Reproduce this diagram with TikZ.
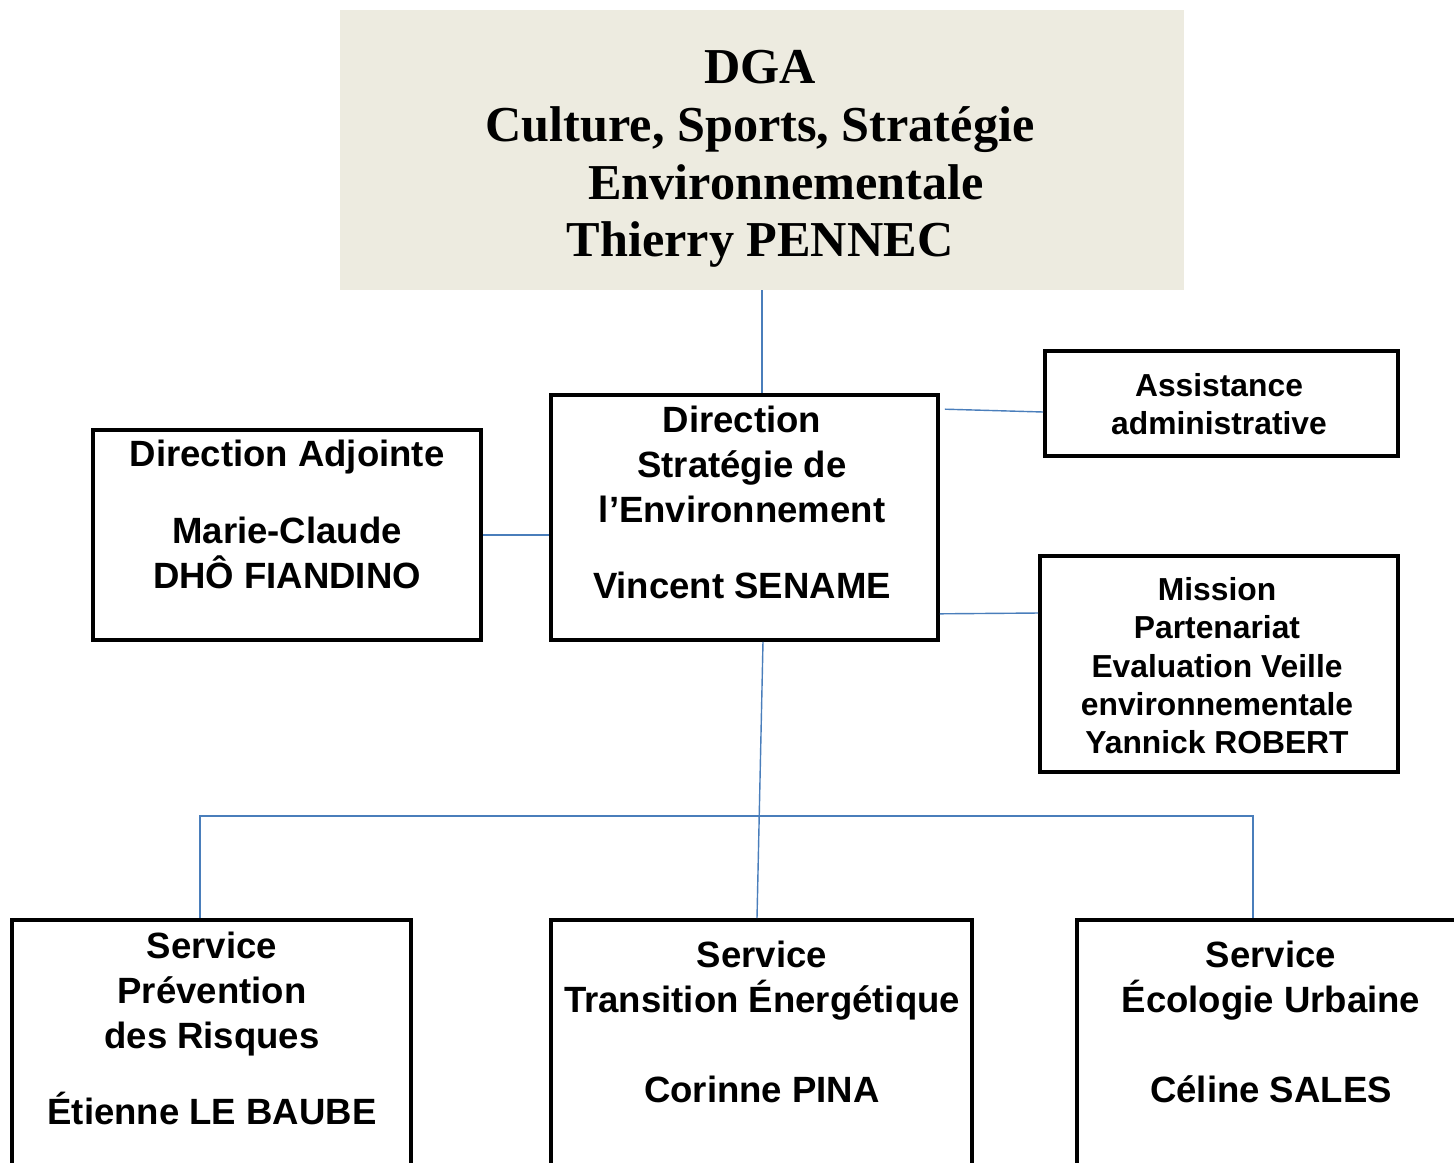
\documentclass[tikz,border=0pt]{standalone}
\usepackage{fontspec}
\setmainfont{Liberation Sans}
\newfontfamily\dgafont{Liberation Serif}
\usepackage{tikz}
\definecolor{dgabg}{RGB}{237,235,224}
\definecolor{linkblue}{RGB}{74,126,187}

\begin{document}
\begin{tikzpicture}[x=0.02cm,y=-0.02cm]
	\tikzstyle{box}=[draw,line width=2.1pt,shape=rectangle,inner sep=0pt]
	\tikzstyle{txt}=[anchor=north,align=center,inner sep=0pt,font=\fontsize{20.8}{25.5}\selectfont\bfseries]
	\tikzstyle{small}=[anchor=north,align=center,inner sep=0pt,font=\fontsize{18.1}{21.8}\selectfont\bfseries]
	\tikzstyle{link}=[draw=linkblue,line width=0.8pt]
	
	\useasboundingbox (0,0) rectangle (1454,1163);
	\clip (0,0) rectangle (1454,1163);
	
	\node[fill=dgabg,minimum width=16.88cm,minimum height=5.6cm](dga) at (762,150){};
	\node[align=center,inner sep=0pt,font=\dgafont\fontsize{28.6}{32.9}\selectfont\bfseries](dgaT) at (760,159){DGA\\Culture, Sports, Stratégie\\\hspace*{1.04cm}Environnementale\\Thierry PENNEC};
	
	\node[box,minimum width=7.76cm,minimum height=4.2cm](adj) at (287,535){};
	\node[box,minimum width=7.74cm,minimum height=4.9cm](dir) at (744.5,517.5){};
	\node[box,minimum width=7.06cm,minimum height=2.1cm](assist) at (1221.5,403.5){};
	\node[box,minimum width=7.16cm,minimum height=4.32cm](mission) at (1219,664){};
	\node[box,minimum width=7.98cm,minimum height=7.6cm](prev) at (211.5,1110){};
	\node[box,minimum width=8.42cm,minimum height=7.6cm](trans) at (761.5,1110){};
	\node[box,minimum width=8.06cm,minimum height=7.6cm](eco) at (1278.5,1110){};
	
	\node[txt](adjT) at (287,440){Direction Adjointe\\[0.64cm]Marie-Claude\\DHÔ FIANDINO};
	\node[txt](dirT) at (742,406){Direction\\Stratégie de\\l’Environnement\\[0.62cm]Vincent SENAME};
	\node[small](assistT) at (1219,373){Assistance\\administrative};
	\node[small](missionT) at (1217,577){Mission\\Partenariat\\Evaluation Veille\\environnementale\\Yannick ROBERT};
	\node[txt](prevT) at (212,932){Service\\Prévention\\des Risques\\[0.62cm]Étienne LE BAUBE};
	\node[txt](transT) at (762,941){Service\\Transition Énergétique\\[0.9cm]Corinne PINA};
	\node[txt](ecoT) at (1271,941){Service\\Écologie Urbaine\\[0.9cm]Céline SALES};
	
	\coordinate(bus) at (762,816);
	
	\draw[link] (dga.south) -- (dga.south |- dir.north);
	\draw[link] (adj.east) -- (adj.east -| dir.west);
	\draw[link] ([shift={(5,16)}]dir.north east) -- ([yshift=-0.17cm]assist.west);
	\draw[link] ([shift={(0,-28)}]dir.south east) -- ([yshift=1.02cm]mission.west);
	\draw[link] ([xshift=0.37cm]dir.south) -- ([xshift=-0.09cm]trans.north);
	\draw[link] ([xshift=-0.23cm]prev.north) |- (bus) -| ([xshift=-0.51cm]eco.north);
	
\end{tikzpicture}
\end{document}
